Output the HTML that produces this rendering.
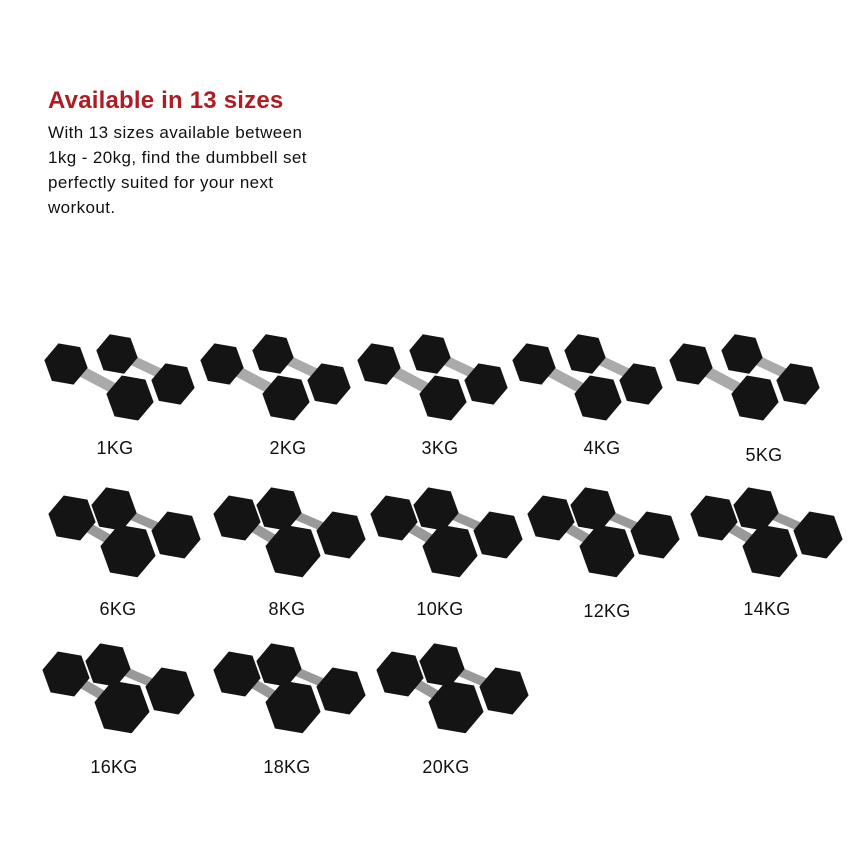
<!DOCTYPE html>
<html><head><style>
body{margin:0;width:860px;height:851px;background:#fff;overflow:hidden;position:relative;font-family:"Liberation Sans",sans-serif}
h1{position:absolute;left:48px;top:87px;margin:0;font-size:24px;letter-spacing:0.2px;color:#b01c24;font-weight:bold}
p{position:absolute;left:48px;top:120px;margin:0;font-size:17px;letter-spacing:0.4px;line-height:25px;color:#111;width:330px}
.l{position:absolute;font-size:18px;letter-spacing:0.3px;color:#111;transform:translateX(-50%)}
svg{position:absolute;left:0;top:0}
</style></head><body>
<h1>Available in 13 sizes</h1>
<p>With 13 sizes available between<br>1kg - 20kg, find the dumbbell set<br>perfectly suited for your next<br>workout.</p>
<svg width="860" height="851">
<defs>
<polygon id="hx" points="1,0 .5,.866 -.5,.866 -1,0 -.5,-.866 .5,-.866" fill="#141414"/>
<g id="lt">
<line x1="73" y1="18" x2="130" y2="45" stroke="#aaa" stroke-width="10"/>
<use href="#hx" transform="translate(73,19) scale(21) rotate(10)"/>
<use href="#hx" transform="translate(129,49) scale(22) rotate(10)"/>
<line x1="22" y1="28" x2="86" y2="62" stroke="#aaa" stroke-width="11"/>
<use href="#hx" transform="translate(22,29) scale(22) rotate(10)"/>
<use href="#hx" transform="translate(86,63) scale(24) rotate(10)"/>
</g>
<g id="hv">
<line x1="62" y1="20" x2="120" y2="45" stroke="#999" stroke-width="9"/>
<use href="#hx" transform="translate(62,21) scale(23) rotate(10)"/>
<use href="#hx" transform="translate(124,47) scale(25) rotate(10)"/>
<line x1="20" y1="30" x2="75" y2="62" stroke="#999" stroke-width="10"/>
<use href="#hx" transform="translate(20,30) scale(24) rotate(10)"/>
<use href="#hx" transform="translate(76,63) scale(28) rotate(10)"/>
</g>
</defs>
<use href="#lt" x="44" y="335"/><use href="#lt" x="200" y="335"/><use href="#lt" x="357" y="335"/><use href="#lt" x="512" y="335"/><use href="#lt" x="669" y="335"/>
<use href="#hv" x="52" y="488"/><use href="#hv" x="217" y="488"/><use href="#hv" x="374" y="488"/><use href="#hv" x="531" y="488"/><use href="#hv" x="694" y="488"/>
<use href="#hv" x="46" y="644"/><use href="#hv" x="217" y="644"/><use href="#hv" x="380" y="644"/>
</svg>
<div class="l" style="left:115px;top:438px">1KG</div>
<div class="l" style="left:288px;top:438px">2KG</div>
<div class="l" style="left:440px;top:438px">3KG</div>
<div class="l" style="left:602px;top:438px">4KG</div>
<div class="l" style="left:764px;top:445px">5KG</div>
<div class="l" style="left:118px;top:599px">6KG</div>
<div class="l" style="left:287px;top:599px">8KG</div>
<div class="l" style="left:440px;top:599px">10KG</div>
<div class="l" style="left:607px;top:601px">12KG</div>
<div class="l" style="left:767px;top:599px">14KG</div>
<div class="l" style="left:114px;top:757px">16KG</div>
<div class="l" style="left:287px;top:757px">18KG</div>
<div class="l" style="left:446px;top:757px">20KG</div>
</body></html>
